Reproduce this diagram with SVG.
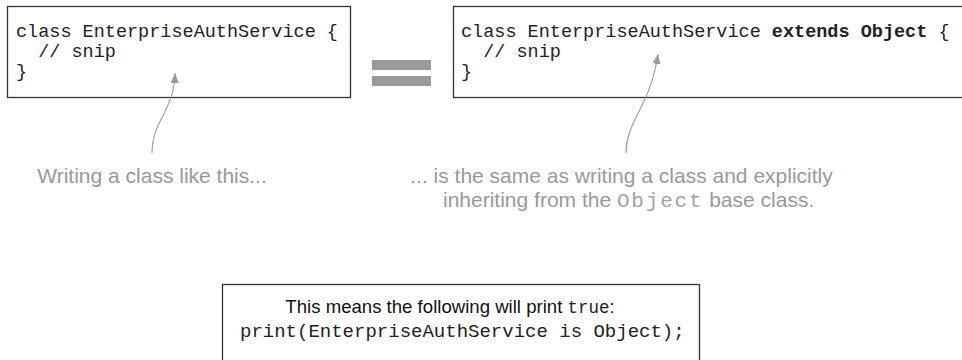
<svg xmlns="http://www.w3.org/2000/svg" width="962" height="360" viewBox="0 0 962 360">
<style>
.box{fill:#fff;stroke:#333;stroke-width:1.3}
.code{font-family:"Liberation Mono","Courier New",monospace;font-size:18.5px;fill:#222}
.lbl{font-family:"Liberation Sans",Arial,sans-serif;font-size:21px;fill:#999}
.lblm{font-family:"Liberation Mono","Courier New",monospace;font-size:21px;letter-spacing:1.8px;fill:#a3a3a3}
.note{font-family:"Liberation Sans",Arial,sans-serif;font-size:18.6px;fill:#111}
.notem{font-family:"Liberation Mono","Courier New",monospace;font-size:17.5px;fill:#222}
.conn{fill:none;stroke:#999;stroke-width:1.1}
.eq{fill:#999}
</style>
<defs>
<marker id="ah" markerUnits="userSpaceOnUse" markerWidth="10" markerHeight="8" viewBox="0 0 10 8" refX="10" refY="4" orient="auto">
<path d="M0,0 L10,4 L0,8 z" fill="#999"/>
</marker>
</defs>
<g id="left-code">
<rect class="box" x="7.5" y="6.5" width="343" height="91"/>
<text class="code" x="16" y="37" xml:space="preserve">class EnterpriseAuthService {</text>
<text class="code" x="16" y="57" xml:space="preserve">  // snip</text>
<text class="code" x="16" y="77">}</text>
</g>
<g id="equals">
<rect class="eq" x="372" y="60" width="59" height="10"/>
<rect class="eq" x="372" y="76" width="59" height="10"/>
</g>
<g id="right-code">
<rect class="box" x="453.5" y="6.5" width="512" height="91"/>
<text class="code" x="461" y="37" xml:space="preserve">class EnterpriseAuthService <tspan font-weight="bold">extends Object</tspan> {</text>
<text class="code" x="461" y="57" xml:space="preserve">  // snip</text>
<text class="code" x="461" y="77">}</text>
</g>
<g id="label-left">
<text class="lbl" x="152" y="183" text-anchor="middle">Writing a class like this...</text>
</g>
<g id="label-right">
<text class="lbl" x="621.5" y="183" text-anchor="middle">... is the same as writing a class and explicitly</text>
<text class="lbl" x="443" y="207">inheriting from the <tspan class="lblm">Object</tspan> base class.</text>
</g>
<g id="note">
<rect class="box" x="222.5" y="284.5" width="477" height="82"/>
<text class="note" x="450" y="313" text-anchor="middle">This means the following will print <tspan class="notem">true</tspan>:</text>
<text class="code" x="240" y="337" style="font-size:19px">print(EnterpriseAuthService is Object);</text>
</g>
<g id="connectors">
<path class="conn" d="M152,153 C152,120 174,112 175,73" marker-end="url(#ah)"/>
<path class="conn" d="M626,153 C626,120 650,108 658,54" marker-end="url(#ah)"/>
</g>
</svg>
